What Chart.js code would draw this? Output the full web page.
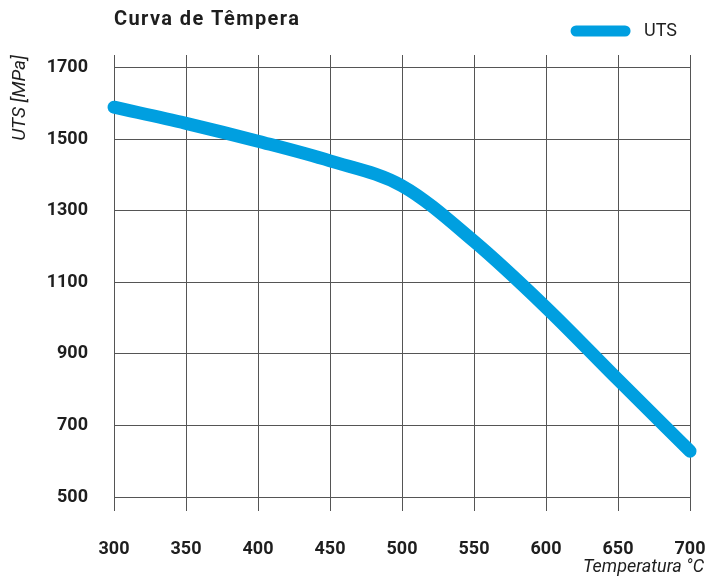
<!DOCTYPE html>
<html>
<head>
<meta charset="utf-8">
<script src="https://cdn.jsdelivr.net/npm/chart.js@4/dist/chart.umd.min.js"></script>
<style>
  html, body { margin: 0; padding: 0; background: #fff; }
  #wrap { width: 705px; height: 581px; }
</style>
</head>
<body>
<div id="wrap"><canvas id="chart"></canvas></div>
<script>
// Dados da curva
const temperaturas = [300, 350, 400, 450, 500, 550, 600, 650, 700];
const uts = [1590, 1545, 1495, 1440, 1370, 1215, 1030, 828, 628];
const yTicks = [500, 700, 900, 1100, 1300, 1500, 1700];

const azul = '#009fe0';
const texto = '#1e1e1e';
const grade = '#555555';

Chart.defaults.font.family = 'Roboto';

// titulo principal e titulo do eixo x desenhados no canvas
const titulos = {
    id: 'titulos',
    beforeInit(chart) {
        const fit = chart.legend.fit;
        chart.legend.fit = function() {
            fit.bind(chart.legend)();
            this.height += 5;
        };
    },
    afterDraw(chart) {
        const ctx = chart.ctx;
        ctx.save();
        ctx.fillStyle = texto;
        ctx.textBaseline = 'middle';
        ctx.textAlign = 'left';
        ctx.font = 'bold 20px Roboto';
        ctx.letterSpacing = '1.4px';
        ctx.fillText('Curva de Têmpera', 114, 20);
        ctx.letterSpacing = '0px';
        ctx.textAlign = 'right';
        ctx.font = 'italic 18px Roboto';
        ctx.fillText('Temperatura °C', 704, 567);
        ctx.restore();
    }
};

new Chart(document.getElementById('chart').getContext('2d'), {
    type: 'line',
    data: {
        datasets: [{
            label: 'UTS',
            data: temperaturas.map((t, i) => ({ x: t, y: uts[i] })),
            borderColor: azul,
            backgroundColor: azul,
            borderWidth: 13,
            borderCapStyle: 'round',
            borderJoinStyle: 'round',
            cubicInterpolationMode: 'monotone',
            pointRadius: 0,
            clip: false,
            fill: false
        }]
    },
    options: {
        responsive: true,
        maintainAspectRatio: false,
        animation: false,
        layout: { padding: { top: 9, right: 15, left: 0, bottom: 0 } },
        scales: {
            x: {
                type: 'linear',
                min: 300,
                max: 700,
                afterFit: s => { s.height = 84; s.paddingRight = 0; s.paddingLeft = 0; },
                ticks: {
                    stepSize: 50,
                    padding: 28,
                    color: texto,
                    font: { weight: 'bold', size: 18 },
                    callback: v => String(v)
                },
                grid: { color: grade, lineWidth: 1, tickLength: 14 },
                border: { color: grade }
            },
            y: {
                min: 500,
                max: 1736,
                afterFit: s => { s.width = 114; },
                afterBuildTicks: s => { s.ticks = yTicks.map(v => ({ value: v })); },
                ticks: {
                    padding: 26,
                    color: texto,
                    font: { weight: 'bold', size: 18 },
                    callback: v => String(v)
                },
                grid: { color: grade, lineWidth: 1, drawTicks: false },
                border: { color: grade },
                title: {
                    display: true,
                    text: 'UTS [MPa]',
                    align: 'end',
                    color: texto,
                    padding: { top: 9, bottom: 0 },
                    font: { style: 'italic', size: 19 }
                }
            }
        },
        plugins: {
            legend: {
                position: 'top',
                align: 'end',
                labels: {
                    boxWidth: 60,
                    boxHeight: 11,
                    useBorderRadius: true,
                    borderRadius: 5.5,
                    padding: 13,
                    color: texto,
                    font: { size: 18 },
                    generateLabels: chart => Chart.defaults.plugins.legend.labels.generateLabels(chart).map(l => {
                        l.text = ' ' + l.text;
                        l.lineWidth = 0;
                        l.fillStyle = azul;
                        return l;
                    })
                }
            },
            tooltip: { enabled: false }
        }
    },
    plugins: [titulos]
});
</script>
</body>
</html>
